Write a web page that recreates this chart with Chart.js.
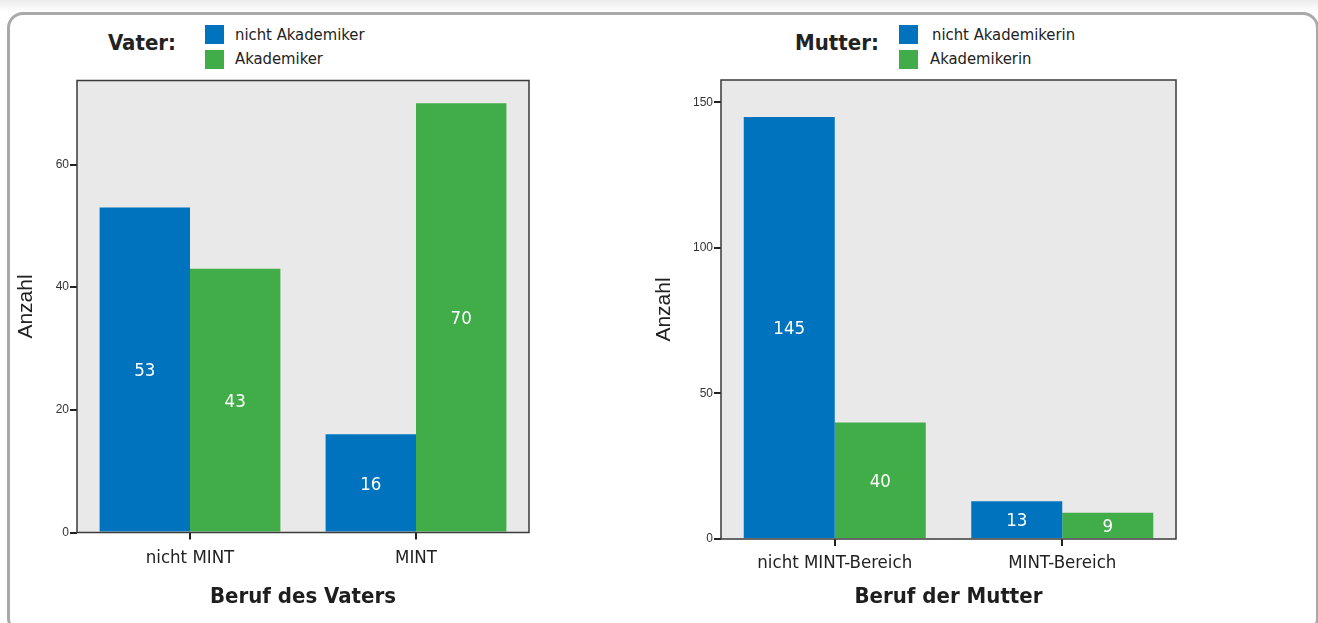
<!DOCTYPE html>
<html lang="de">
<head>
<meta charset="utf-8">
<title>Beruf der Eltern</title>
<script src="https://cdn.jsdelivr.net/npm/chart.js@4.4.1/dist/chart.umd.min.js"></script>
<style>
  html, body { margin: 0; padding: 0; background: #fff; }
  body { width: 1318px; height: 623px; position: relative; overflow: hidden;
         background: linear-gradient(#ececec 0px, #ffffff 12px); }
  .frame { position: absolute; left: 7px; top: 12px; width: 1312px; height: 622px;
           border: 3px solid #a9a9a9; border-radius: 16px; background: #fff; box-sizing: border-box; }
  canvas.plot { position: absolute; top: 0; }
  .head { position: absolute; font-family: 'DejaVu Sans Condensed', 'DejaVu Sans', sans-serif; color: #222; }
  .head .who { position: absolute; font-weight: bold; font-size: 22px; white-space: nowrap; }
  .head .item { position: absolute; font-size: 16.5px; white-space: nowrap; line-height: 19px; }
  .head .sw { position: absolute; width: 19px; height: 19px; }
</style>
</head>
<body>
<div class="frame"></div>
<div id="headV" class="head"></div>
<div id="headM" class="head"></div>
<canvas id="vater" class="plot" style="left:0px"></canvas>
<canvas id="mutter" class="plot" style="left:640px"></canvas>
<script>
// Beruf des Vaters
const vaterCategories = ['nicht MINT', 'MINT'];
const vaterNichtAkademiker = [53, 16];
const vaterAkademiker = [43, 70];
const vaterTicks = [0, 20, 40, 60];
const vaterSeries = ['nicht Akademiker', 'Akademiker'];

// Beruf der Mutter
const mutterCategories = ['nicht MINT-Bereich', 'MINT-Bereich'];
const mutterNichtAkademikerin = [145, 13];
const mutterAkademikerin = [40, 9];
const mutterTicks = [0, 50, 100, 150];
const mutterSeries = ['nicht Akademikerin', 'Akademikerin'];

const BLUE = '#0073be';
const GREEN = '#41ad49';
const FONT = "'DejaVu Sans Condensed', 'DejaVu Sans', sans-serif";

// Legend heads drawn as HTML
function buildHead(id, who, names, pos) {
  const el = document.getElementById(id);
  el.style.left = pos.left + 'px';
  el.style.top = '0px';
  const w = document.createElement('div');
  w.className = 'who'; w.textContent = who;
  w.style.left = '0px'; w.style.top = '30px';
  el.appendChild(w);
  [BLUE, GREEN].forEach((c, i) => {
    const sw = document.createElement('div');
    sw.className = 'sw'; sw.style.background = c;
    sw.style.left = pos.sw + 'px'; sw.style.top = (25 + i * 25) + 'px';
    el.appendChild(sw);
    const t = document.createElement('div');
    t.className = 'item'; t.textContent = names[i];
    t.style.left = (pos.txt[i]) + 'px'; t.style.top = (25 + i * 24) + 'px';
    el.appendChild(t);
  });
}
buildHead('headV', 'Vater:', vaterSeries, { left: 108, sw: 97, txt: [127, 127] });
buildHead('headM', 'Mutter:', mutterSeries, { left: 795, sw: 104, txt: [137, 135] });

// Grey plot panel with dark frame
const panelPlugin = {
  id: 'panel',
  beforeDraw(chart) {
    const a = chart.chartArea, ctx = chart.ctx;
    ctx.save();
    ctx.fillStyle = '#e9e9e9';
    ctx.fillRect(a.left, a.top, a.right - a.left, a.bottom - a.top);
    ctx.restore();
  },
  afterDraw(chart) {
    const a = chart.chartArea, ctx = chart.ctx;
    ctx.save();
    ctx.strokeStyle = '#3a3a3a';
    ctx.lineWidth = 1.5;
    ctx.strokeRect(a.left, a.top, a.right - a.left, a.bottom - a.top);
    ctx.restore();
  }
};

// Value labels centred inside each bar
const valuePlugin = {
  id: 'values',
  afterDatasetsDraw(chart) {
    const ctx = chart.ctx;
    ctx.save();
    ctx.fillStyle = '#ffffff';
    ctx.font = '18.5px ' + FONT;
    ctx.textAlign = 'center';
    ctx.textBaseline = 'middle';
    chart.data.datasets.forEach((ds, di) => {
      chart.getDatasetMeta(di).data.forEach((bar, i) => {
        ctx.fillText(String(ds.data[i]), bar.x, (bar.y + bar.base) / 2 + 2);
      });
    });
    ctx.restore();
  }
};

function makeChart(id, w, cfg) {
  const cv = document.getElementById(id);
  cv.style.width = w + 'px';
  cv.style.height = '623px';
  cv.width = w; cv.height = 623;
  return new Chart(cv, {
    type: 'bar',
    data: {
      labels: cfg.categories,
      datasets: [
        { label: cfg.series[0], data: cfg.a, backgroundColor: BLUE },
        { label: cfg.series[1], data: cfg.b, backgroundColor: GREEN }
      ]
    },
    options: {
      responsive: false,
      animation: false,
      devicePixelRatio: 1,
      layout: { padding: { top: cfg.top, right: cfg.right, bottom: 0, left: 0 } },
      datasets: { bar: { categoryPercentage: 0.8, barPercentage: 1.0, borderWidth: 0 } },
      plugins: { legend: { display: false }, tooltip: { enabled: false } },
      scales: {
        x: {
          grid: { display: true, offset: false, drawOnChartArea: false, drawTicks: true,
                  tickLength: 7, color: '#222', lineWidth: 2 },
          border: { display: false },
          ticks: { color: '#222', font: { family: FONT, size: 18.5 }, padding: cfg.xpad, maxRotation: 0 },
          title: { display: true, text: cfg.xTitle, color: '#1e1e1e',
                   font: { family: FONT, size: 22, weight: 'bold' },
                   padding: { top: 0, bottom: 13 } },
          afterFit(s) { s.height = cfg.xh; }
        },
        y: {
          min: 0, max: cfg.max,
          afterBuildTicks(s) { s.ticks = cfg.ticks.map(v => ({ value: v })); },
          grid: { display: true, drawOnChartArea: false, drawTicks: true, tickLength: 7,
                  color: '#222', lineWidth: 2 },
          border: { display: false },
          ticks: { color: '#333', font: { family: "'Liberation Sans', Arial, sans-serif", size: 12 },
                   padding: 1 },
          title: { display: true, text: 'Anzahl', color: '#222',
                   font: { family: "'Liberation Sans', Arial, sans-serif", size: 21 },
                   padding: { top: cfg.ytpad, bottom: 0 } },
          afterFit(s) { s.width = cfg.yw; }
        }
      }
    },
    plugins: [panelPlugin, valuePlugin]
  });
}

makeChart('vater', 640, {
  categories: vaterCategories, series: vaterSeries,
  a: vaterNichtAkademiker, b: vaterAkademiker, ticks: vaterTicks,
  xTitle: 'Beruf des Vaters', max: 73.7,
  top: 80.5, right: 111, xh: 90.5, yw: 77, xpad: 8, ytpad: 14
});

makeChart('mutter', 678, {
  categories: mutterCategories, series: mutterSeries,
  a: mutterNichtAkademikerin, b: mutterAkademikerin, ticks: mutterTicks,
  xTitle: 'Beruf der Mutter', max: 157.7,
  top: 80, right: 142, xh: 84, yw: 81, xpad: 6, ytpad: 12
});
</script>
</body>
</html>
